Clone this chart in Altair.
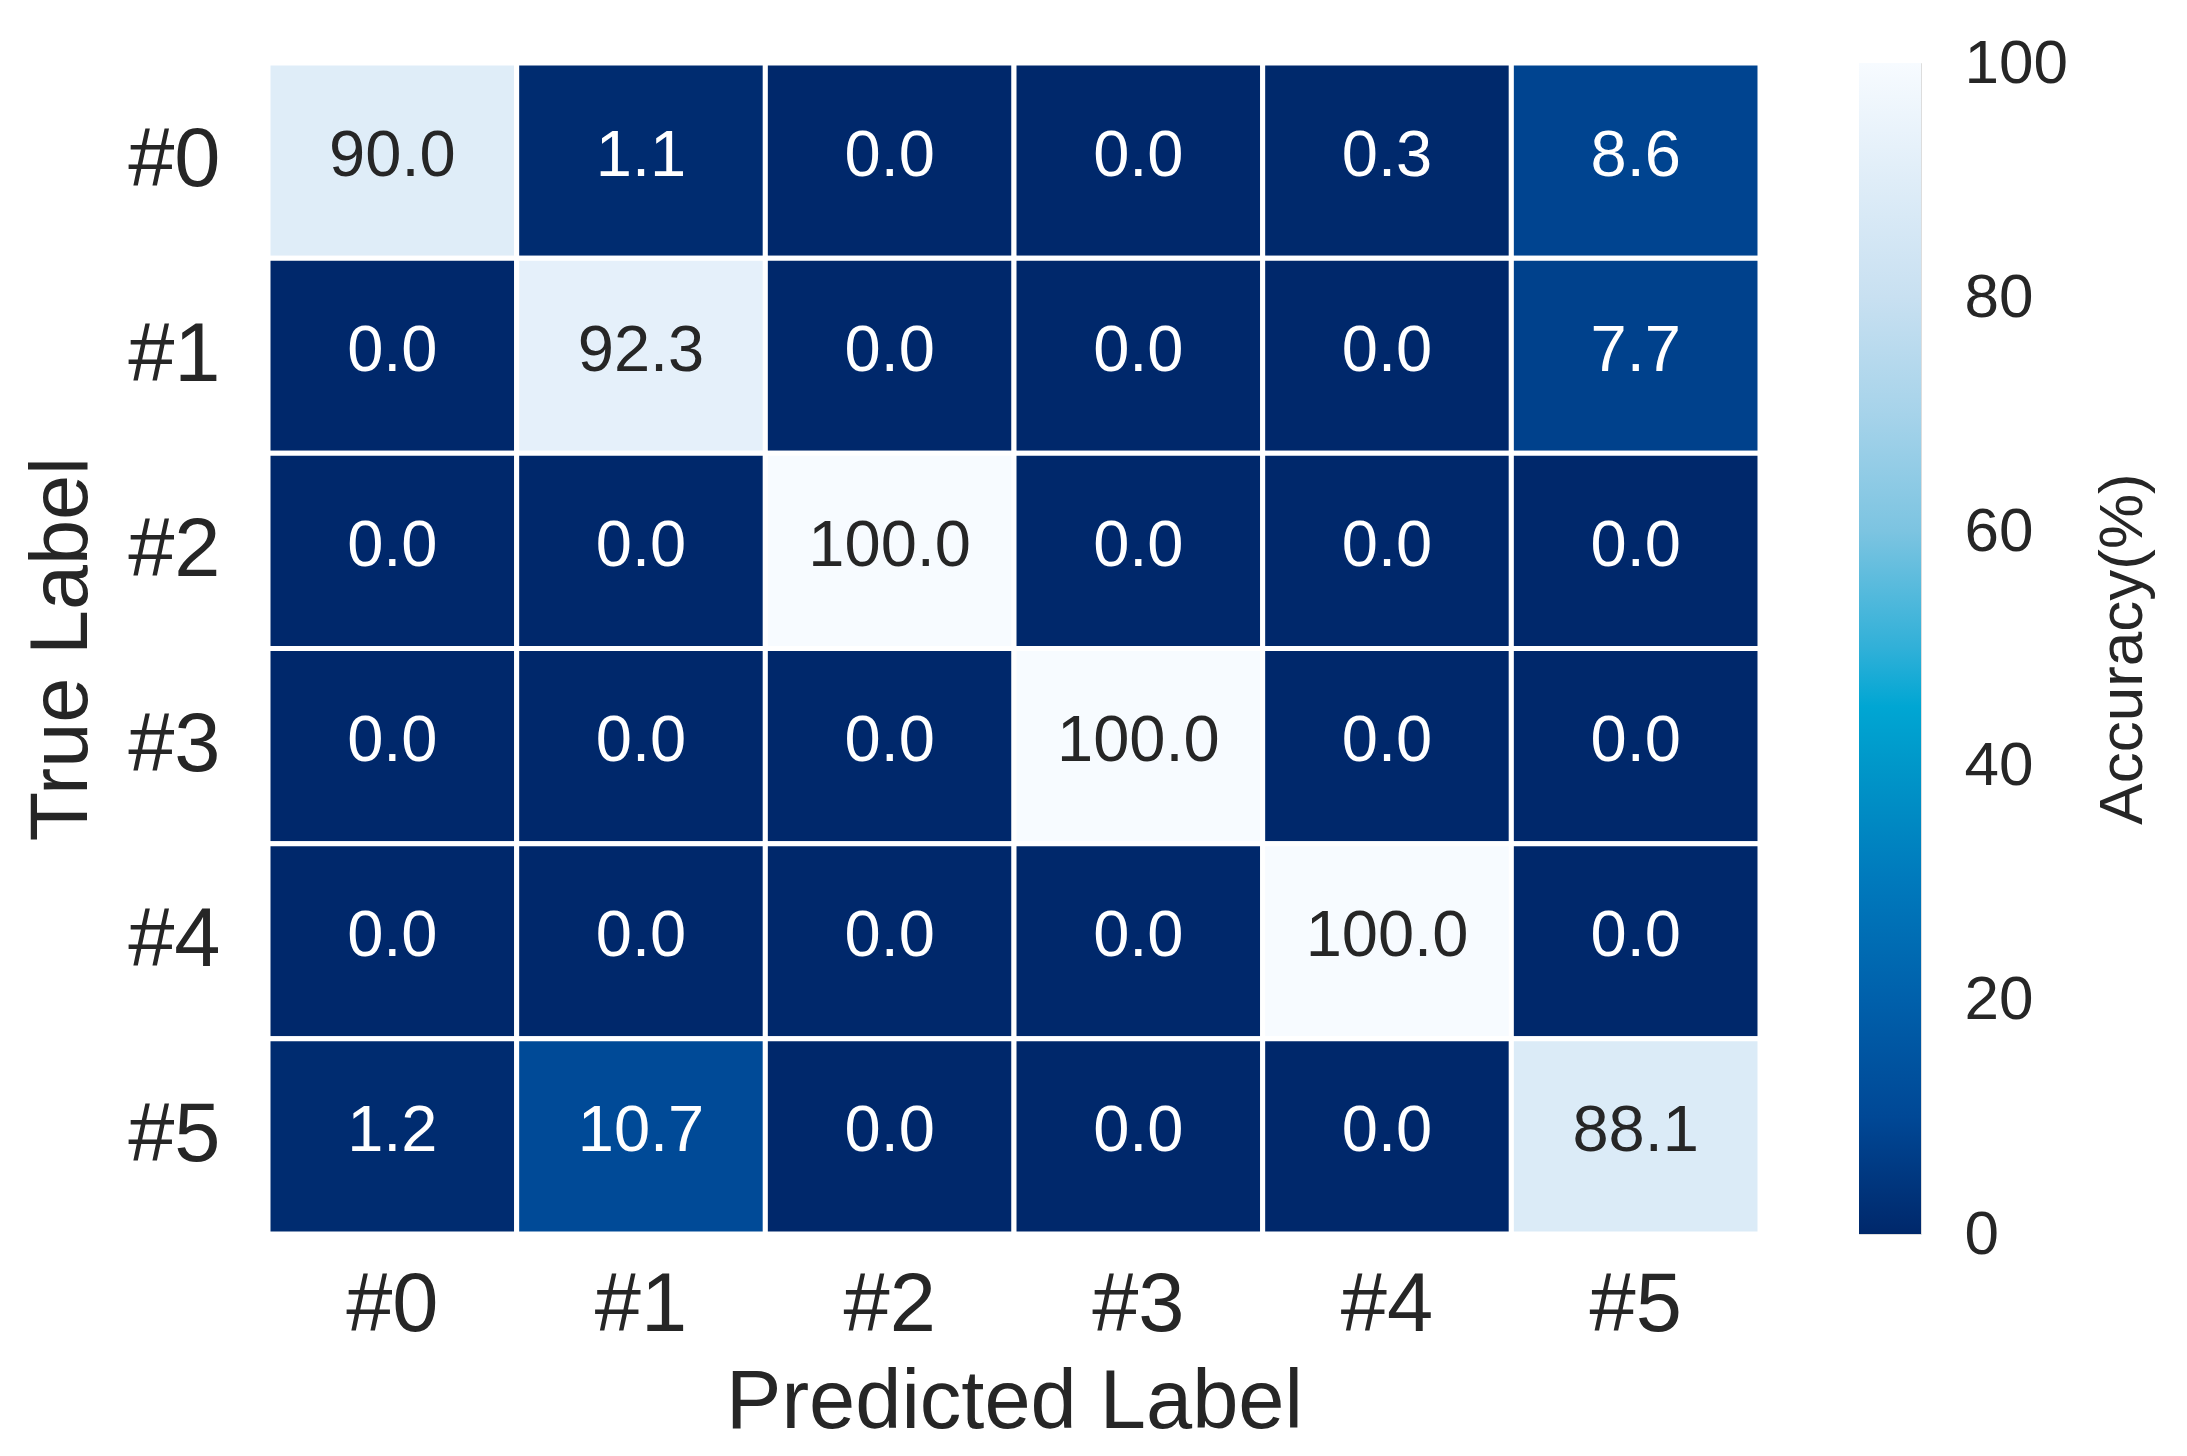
import altair as alt
import pandas as pd

true_labels = ["#0", "#1", "#2", "#3", "#4", "#5"]
pred_labels = ["#0", "#1", "#2", "#3", "#4", "#5"]
row0 = [90.0, 1.1, 0.0, 0.0, 0.3, 8.6]
row1 = [0.0, 92.3, 0.0, 0.0, 0.0, 7.7]
row2 = [0.0, 0.0, 100.0, 0.0, 0.0, 0.0]
row3 = [0.0, 0.0, 0.0, 100.0, 0.0, 0.0]
row4 = [0.0, 0.0, 0.0, 0.0, 100.0, 0.0]
row5 = [1.2, 10.7, 0.0, 0.0, 0.0, 88.1]
colorbar_ticks = [0, 20, 40, 60, 80, 100]
colorbar_range = [0, 100]

rows = [row0, row1, row2, row3, row4, row5]
records = []
for t, vals in zip(true_labels, rows):
    for p, v in zip(pred_labels, vals):
        records.append({"true": t, "pred": p, "acc": v})
df = pd.DataFrame(records)

FONT = "Liberation Sans"
INK = "#262626"
stops_dom = [0, 10, 20, 30, 40, 45, 50, 60, 70, 80, 90, 100]
stops_rng = ["#00286b", "#004896", "#0060ab", "#0079bc", "#0097c9", "#00a6d3",
             "#30b0d8", "#7cc4e1", "#a6d3ea", "#c8e0f1", "#dfedf8", "#f7fbff"]

base = alt.Chart(df).encode(
    x=alt.X("pred:N", sort=pred_labels, title="Predicted Label",
            axis=alt.Axis(orient="bottom", labelAngle=0, domain=False, ticks=False, tickSize=0,
                          labelFontSize=83, labelPadding=30, titleFontSize=83,
                          titlePadding=14, titleFontWeight="normal", labelColor=INK,
                          titleColor=INK)),
    y=alt.Y("true:N", sort=true_labels, title="True Label",
            axis=alt.Axis(domain=False, ticks=False, tickSize=0, labelFontSize=83,
                          labelPadding=48, titleFontSize=81, titlePadding=24,
                          titleFontWeight="normal", labelColor=INK,
                          titleColor=INK)),
)

rects = base.mark_rect(stroke="white", strokeWidth=5).encode(
    color=alt.Color("acc:Q",
                    scale=alt.Scale(domain=stops_dom, range=stops_rng, interpolate="rgb"),
                    legend=None)
)

texts = base.mark_text(fontSize=65, font=FONT, baseline="middle", dy=-5).encode(
    text=alt.Text("acc:Q", format=".1f"),
    color=alt.condition(alt.datum.acc > 50, alt.value(INK), alt.value("white")),
)

heatmap = alt.layer(rects, texts).properties(width=1492, height=1171)

gradient = alt.LinearGradient(
    gradient="linear",
    stops=[alt.GradientStop(offset=d / 100, color=c) for d, c in zip(stops_dom, stops_rng)],
    x1=0, x2=0, y1=1, y2=0,
)

cb_df = pd.DataFrame({"lo": [colorbar_range[0]], "hi": [colorbar_range[1]]})
colorbar = alt.Chart(cb_df).mark_rect(fill=gradient).encode(
    y=alt.Y("lo:Q", scale=alt.Scale(domain=colorbar_range, nice=False, zero=False),
            title="Accuracy(%)",
            axis=alt.Axis(orient="right", values=colorbar_ticks, domain=False, ticks=False,
                          grid=False, tickSize=0, labelFlush=False, labelOverlap=False,
                          labelBound=False, labelFontSize=62, labelPadding=43,
                          labelColor=INK, titleFontSize=62, titleFontWeight="normal",
                          titleColor=INK, titleAngle=270, titleBaseline="top",
                          titlePadding=25)),
    y2="hi:Q",
).properties(width=62, height=1171)

chart = alt.hconcat(heatmap, colorbar, spacing=95).properties(
    padding={"left": 13, "top": 23, "right": 5, "bottom": 5},
).configure_view(stroke=None).configure(font=FONT).configure_scale(bandPaddingInner=0, bandPaddingOuter=0)

chart.save("out.html", embed_options={"renderer": "svg", "actions": False})
